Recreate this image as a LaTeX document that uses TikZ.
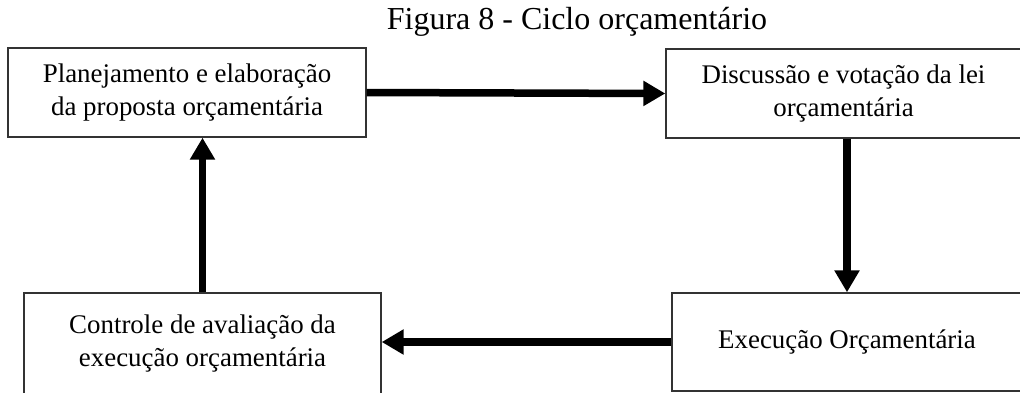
\documentclass[tikz,border=0pt]{standalone}
\usepackage{fontspec}
\setmainfont{Liberation Serif}
\usetikzlibrary{arrows.meta}
\tikzset{
  box/.style={draw=black!80, line width=1.4pt, fill=white, inner sep=0pt, align=center,
    font=\fontsize{26.9}{33}\selectfont},
  arr/.style={line width=7.5pt, -{Triangle[width=24pt,length=22pt]}},
}
\begin{document}
\begin{tikzpicture}[x=1pt,y=-1pt]
\useasboundingbox (0,0) rectangle (1020,392);
\node[font=\fontsize{32}{36}\selectfont] (title) at (577,22) {Figura 8 - Ciclo orçamentário};
\node[box, minimum width=358pt, minimum height=89pt] (b1) at (187,92.5) {Planejamento e elaboração\\da proposta orçamentária};
\node[box, minimum width=355pt, minimum height=89pt] (b2) at (843.5,93.5) {Discussão e votação da lei\\orçamentária};
\node[box, minimum width=350pt, minimum height=98pt] (b3) at (847,342) {Execução Orçamentária};
\node[box, minimum width=357pt, minimum height=102pt] (b4) at (202.5,344) {Controle de avaliação da\\execução orçamentária};
\draw[arr] (b1.east) -- (b2.west);
\draw[arr] (b2.south -| b3.north) -- (b3.north);
\draw[arr] (b3.west) -- (b4.east |- b3.west);
\draw[arr] (b4.north) -- (b1.south -| b4.north);
\end{tikzpicture}
\end{document}
